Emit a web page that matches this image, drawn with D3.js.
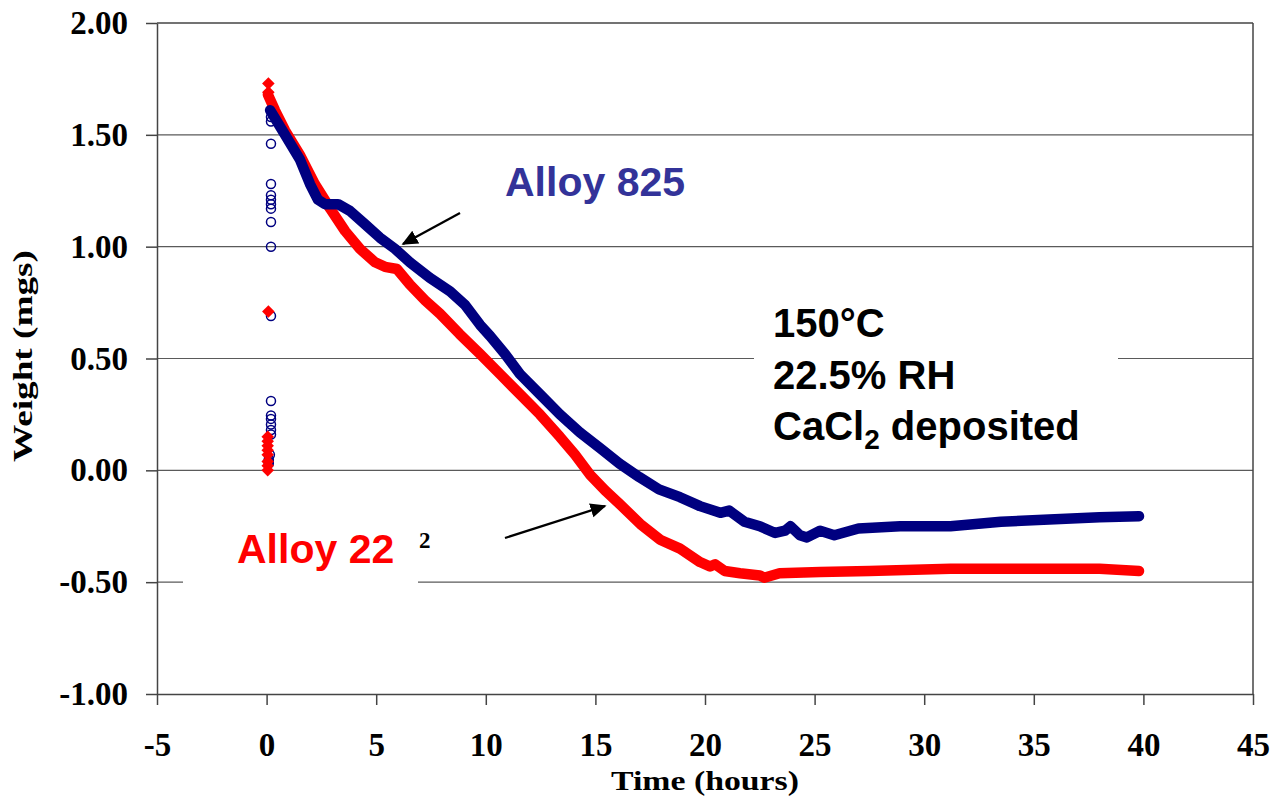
<!DOCTYPE html>
<html>
<head>
<meta charset="utf-8">
<script src="https://cdn.jsdelivr.net/npm/d3@7"></script>
<style>
  html, body { margin: 0; padding: 0; background: #fff; }
  svg { display: block; }
</style>
</head>
<body>
<svg id="chart" width="1274" height="805"></svg>
<script>
// Weight change vs exposure time, continuous microbalance records
const hours825 = [0.16, 0.84, 1.52, 1.98, 2.34, 2.66, 3.26, 3.80, 4.49, 5.17, 5.86, 6.54, 7.45, 8.37, 9.05, 9.74, 10.2, 10.88, 11.56, 12.47, 13.38, 14.29, 15.2, 16.1, 17.0, 17.9, 18.86, 19.77, 20.7, 21.1, 21.8, 22.5, 23.2, 23.65, 23.9, 24.33, 24.65, 25.25, 25.9, 27.0, 28.9, 31.2, 33.5, 35.7, 38.0, 39.8];
const weight825 = [1.61, 1.50, 1.39, 1.28, 1.21, 1.19, 1.19, 1.16, 1.10, 1.04, 0.99, 0.93, 0.86, 0.80, 0.74, 0.65, 0.60, 0.52, 0.43, 0.34, 0.25, 0.17, 0.10, 0.03, -0.03, -0.085, -0.12, -0.16, -0.19, -0.18, -0.23, -0.25, -0.28, -0.27, -0.25, -0.29, -0.30, -0.27, -0.29, -0.26, -0.25, -0.25, -0.23, -0.22, -0.21, -0.205];

const hours22 = [0.06, 0.38, 0.84, 1.52, 2.2, 2.9, 3.58, 4.26, 4.95, 5.4, 5.95, 6.54, 7.23, 7.91, 8.8, 9.74, 10.65, 11.56, 12.47, 13.38, 14.07, 14.76, 15.44, 16.1, 17.05, 17.95, 18.86, 19.77, 20.23, 20.46, 20.9, 21.6, 22.5, 22.7, 23.4, 25.25, 27.5, 31.2, 33.5, 35.7, 38.0, 39.8];
const weight22 = [1.68, 1.61, 1.52, 1.41, 1.28, 1.17, 1.07, 0.99, 0.93, 0.91, 0.90, 0.83, 0.76, 0.70, 0.61, 0.52, 0.43, 0.34, 0.25, 0.15, 0.07, -0.02, -0.09, -0.15, -0.24, -0.31, -0.35, -0.41, -0.43, -0.42, -0.45, -0.46, -0.47, -0.48, -0.46, -0.455, -0.45, -0.44, -0.44, -0.44, -0.44, -0.45];

// Start-up readings logged before the balance settled
const startHours825 = [0.2, 0.2, 0.2, 0.2, 0.2, 0.2, 0.2, 0.2, 0.2, 0.2, 0.2, 0.2, 0.2, 0.2, 0.2, 0.2, 0.2, 0.15, 0.1, 0.1, 0.1];
const startWeight825 = [1.58, 1.56, 1.46, 1.28, 1.23, 1.21, 1.19, 1.17, 1.11, 1.00, 0.69, 0.31, 0.245, 0.23, 0.205, 0.18, 0.16, 0.07, 0.05, 0.04, 0.03];
const startHours22 = [0.08, 0.08, 0.08, 0.05, 0.05, 0.05, 0.05, 0.05, 0.05, 0.05, 0.05];
const startWeight22 = [1.73, 1.69, 0.71, 0.15, 0.13, 0.11, 0.09, 0.07, 0.04, 0.02, 0.00];

const xTicks = [-5, 0, 5, 10, 15, 20, 25, 30, 35, 40, 45];
const yTicks = [-1.0, -0.5, 0.0, 0.5, 1.0, 1.5, 2.0];

const svg = d3.select("#chart");
const x = d3.scaleLinear().domain([-5, 45]).range([157, 1253]);
const y = d3.scaleLinear().domain([-1, 2]).range([694, 23]);

const serif = "'Liberation Serif', 'Times New Roman', serif";
const sans = "'Liberation Sans', Arial, sans-serif";

// horizontal gridlines
svg.append("g").selectAll("line")
  .data(yTicks.filter(v => v > -1 && v < 2))
  .join("line")
  .attr("x1", x(-5)).attr("x2", x(45))
  .attr("y1", d => y(d)).attr("y2", d => y(d))
  .attr("stroke", "#5a5a5a").attr("stroke-width", 1.2);

// frame: top and right edges
svg.append("line").attr("x1", x(-5)).attr("x2", x(45)).attr("y1", y(2)).attr("y2", y(2))
  .attr("stroke", "#444").attr("stroke-width", 1.5);
svg.append("line").attr("x1", x(45)).attr("x2", x(45)).attr("y1", y(2)).attr("y2", y(-1))
  .attr("stroke", "#444").attr("stroke-width", 1.5);

// axes
const yAxis = svg.append("g")
  .attr("transform", `translate(${x(-5)},0)`)
  .call(d3.axisLeft(y).tickValues(yTicks).tickSize(11).tickSizeOuter(0).tickPadding(18)
    .tickFormat(d => d.toFixed(2)));
const xAxis = svg.append("g")
  .attr("transform", `translate(0,${y(-1)})`)
  .call(d3.axisBottom(x).tickValues(xTicks).tickSize(11).tickSizeOuter(0).tickPadding(28)
    .tickFormat(d => String(d)));

[yAxis, xAxis].forEach(g => {
  g.select(".domain").attr("stroke", "#444").attr("stroke-width", 1.5);
  g.selectAll(".tick line").attr("stroke", "#444").attr("stroke-width", 1.5);
  g.selectAll(".tick text")
    .attr("font-family", serif).attr("font-weight", "bold").attr("font-size", 33)
    .attr("fill", "#000");
});

// axis titles
svg.append("text")
  .attr("x", 705).attr("y", 790)
  .attr("text-anchor", "middle")
  .attr("font-family", serif).attr("font-weight", "bold").attr("font-size", 28)
  .attr("textLength", 188).attr("lengthAdjust", "spacingAndGlyphs")
  .text("Time (hours)");
svg.append("text")
  .attr("transform", "translate(32,356) rotate(-90)")
  .attr("text-anchor", "middle")
  .attr("font-family", serif).attr("font-weight", "bold").attr("font-size", 28)
  .attr("textLength", 212).attr("lengthAdjust", "spacingAndGlyphs")
  .text("Weight (mgs)");

// white panels behind the annotations
svg.append("rect").attr("x", 183).attr("y", 520).attr("width", 235).attr("height", 80).attr("fill", "#fff");
svg.append("rect").attr("x", 754).attr("y", 296).attr("width", 364).attr("height", 160).attr("fill", "#fff");

// series
const line = d3.line().x(d => x(d[0])).y(d => y(d[1])).curve(d3.curveLinear);
const s22 = d3.zip(hours22, weight22);
const s825 = d3.zip(hours825, weight825);

svg.append("path").datum(s22).attr("d", line)
  .attr("fill", "none").attr("stroke", "#ff0000").attr("stroke-width", 10.5)
  .attr("stroke-linejoin", "round").attr("stroke-linecap", "round");
svg.append("path").datum(s825).attr("d", line)
  .attr("fill", "none").attr("stroke", "#000080").attr("stroke-width", 10.5)
  .attr("stroke-linejoin", "round").attr("stroke-linecap", "round");

// start-up markers
svg.append("g").selectAll("circle")
  .data(d3.zip(startHours825, startWeight825))
  .join("circle")
  .attr("cx", d => x(d[0])).attr("cy", d => y(d[1])).attr("r", 4.5)
  .attr("fill", "none").attr("stroke", "#000080").attr("stroke-width", 1.5);
const diamond = d3.symbol().type(d3.symbolDiamond2).size(100);
svg.append("g").selectAll("path")
  .data(d3.zip(startHours22, startWeight22))
  .join("path")
  .attr("transform", d => `translate(${x(d[0])},${y(d[1])})`)
  .attr("d", diamond)
  .attr("fill", "#ff0000");

// labels and pointers
svg.append("defs").append("marker")
  .attr("id", "arrowhead").attr("viewBox", "0 0 10 10")
  .attr("refX", 9).attr("refY", 5)
  .attr("markerWidth", 7).attr("markerHeight", 7)
  .attr("markerUnits", "strokeWidth").attr("orient", "auto")
  .append("path").attr("d", "M0,0.5 L10,5 L0,9.5 z").attr("fill", "#000");

svg.append("line").attr("x1", 460).attr("y1", 213).attr("x2", 403).attr("y2", 244)
  .attr("stroke", "#000").attr("stroke-width", 2.3).attr("marker-end", "url(#arrowhead)");
svg.append("line").attr("x1", 505).attr("y1", 538).attr("x2", 605).attr("y2", 506)
  .attr("stroke", "#000").attr("stroke-width", 2.3).attr("marker-end", "url(#arrowhead)");

svg.append("text").attr("x", 505).attr("y", 196)
  .attr("font-family", sans).attr("font-weight", "bold").attr("font-size", 41)
  .attr("fill", "#333399").text("Alloy 825");
svg.append("text").attr("x", 237).attr("y", 563)
  .attr("font-family", sans).attr("font-weight", "bold").attr("font-size", 41)
  .attr("fill", "#ff0000").text("Alloy 22");
svg.append("text").attr("x", 419).attr("y", 548)
  .attr("font-family", serif).attr("font-weight", "bold").attr("font-size", 23)
  .attr("fill", "#000").text("2");

const note = svg.append("text")
  .attr("font-family", sans).attr("font-weight", "bold").attr("font-size", 40)
  .attr("fill", "#000");
note.append("tspan").attr("x", 773).attr("y", 337).text("150°C");
note.append("tspan").attr("x", 773).attr("y", 389).text("22.5% RH");
note.append("tspan").attr("x", 773).attr("y", 440).text("CaCl");
note.append("tspan").attr("font-size", 28).attr("dy", 9).text("2");
note.append("tspan").attr("dy", -9).text(" deposited");
</script>
</body>
</html>
